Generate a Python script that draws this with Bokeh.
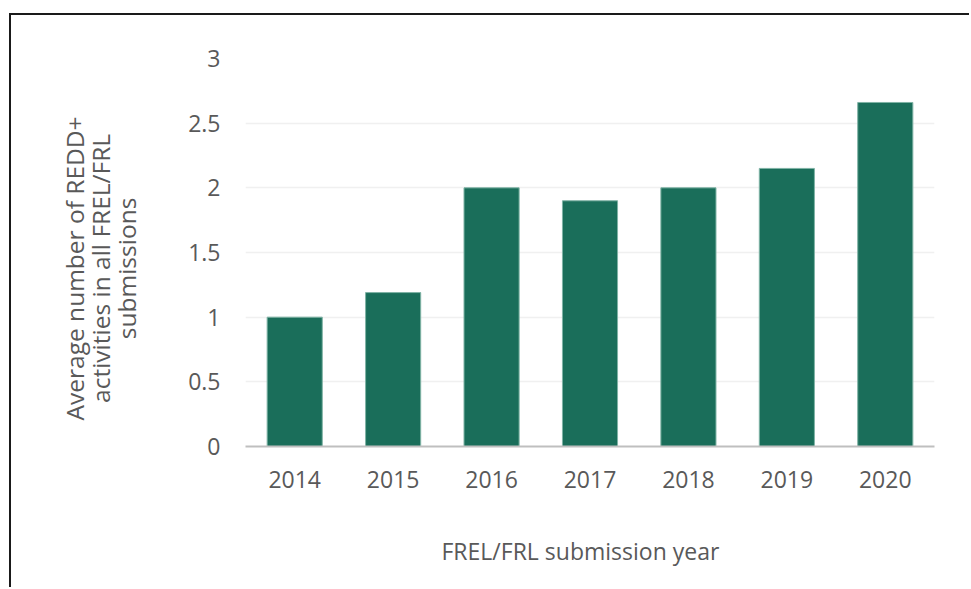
from bokeh.plotting import figure
from bokeh.models import FactorRange, Range1d, SingleIntervalTicker, Title
from bokeh.embed import file_html
from bokeh.resources import INLINE

years = ["2014", "2015", "2016", "2017", "2018", "2019", "2020"]
values = [1.0, 1.19, 2.0, 1.9, 2.0, 2.15, 2.66]
y_title_lines = ["Average number of REDD+", "activities in all FREL/FRL", "submissions"]
x_title = "FREL/FRL submission year"

TEXT = "#595959"
FONT = "Open Sans"
FS = "23px"

p = figure(x_range=FactorRange(*years, range_padding=0), y_range=Range1d(0, 3),
           width=960, height=574, output_backend="svg", toolbar_location=None,
           min_border_left=234, min_border_top=43, min_border_right=37, min_border_bottom=143)
p.margin = (13, 0, 0, 9)
p.styles = {"border-top": "2px solid #1a1a1a", "border-left": "2px solid #1a1a1a"}

p.vbar(x=years, top=values, width=0.56, fill_color="#1a6e5a", line_color="#7fb3a5", line_width=1)

p.outline_line_color = None
p.background_fill_color = "white"
p.border_fill_color = "white"

p.xgrid.grid_line_color = None
p.ygrid.grid_line_color = "#f0f0f0"
p.ygrid.grid_line_width = 1.5

p.yaxis.ticker = SingleIntervalTicker(interval=0.5)
p.yaxis.axis_line_color = None
p.yaxis.major_tick_line_color = None
p.yaxis.minor_tick_line_color = None
p.yaxis.major_label_standoff = 19
# trailing spaces nudge the centred rotated title slightly downwards, as in the original
p.yaxis.axis_label = "\n".join(line + "     " for line in y_title_lines)
p.yaxis.axis_label_standoff = 42

p.xaxis.axis_line_color = "#bfbfbf"
p.xaxis.axis_line_width = 2
p.xaxis.major_tick_line_color = None
p.xaxis.minor_tick_line_color = None
p.xaxis.major_label_standoff = 18
# blank spacer label pushes the x title (a Title, so it can sit off-centre) down
p.xaxis.axis_label = " "
p.xaxis.axis_label_standoff = 7

for ax in (p.xaxis, p.yaxis):
    ax.major_label_text_font = FONT
    ax.major_label_text_font_size = FS
    ax.major_label_text_color = TEXT
    ax.axis_label_text_font = FONT
    ax.axis_label_text_font_size = FS
    ax.axis_label_text_font_style = "normal"
    ax.axis_label_text_color = TEXT

p.yaxis.axis_label_text_font_size = "24.5px"
p.yaxis.axis_label_text_line_height = 0.79

xt = Title(text=x_title, align="left", offset=196, standoff=0,
           text_font=FONT, text_font_size=FS, text_font_style="normal", text_color=TEXT)
p.add_layout(xt, "below")

open("out.html", "w").write(file_html(p, INLINE))
